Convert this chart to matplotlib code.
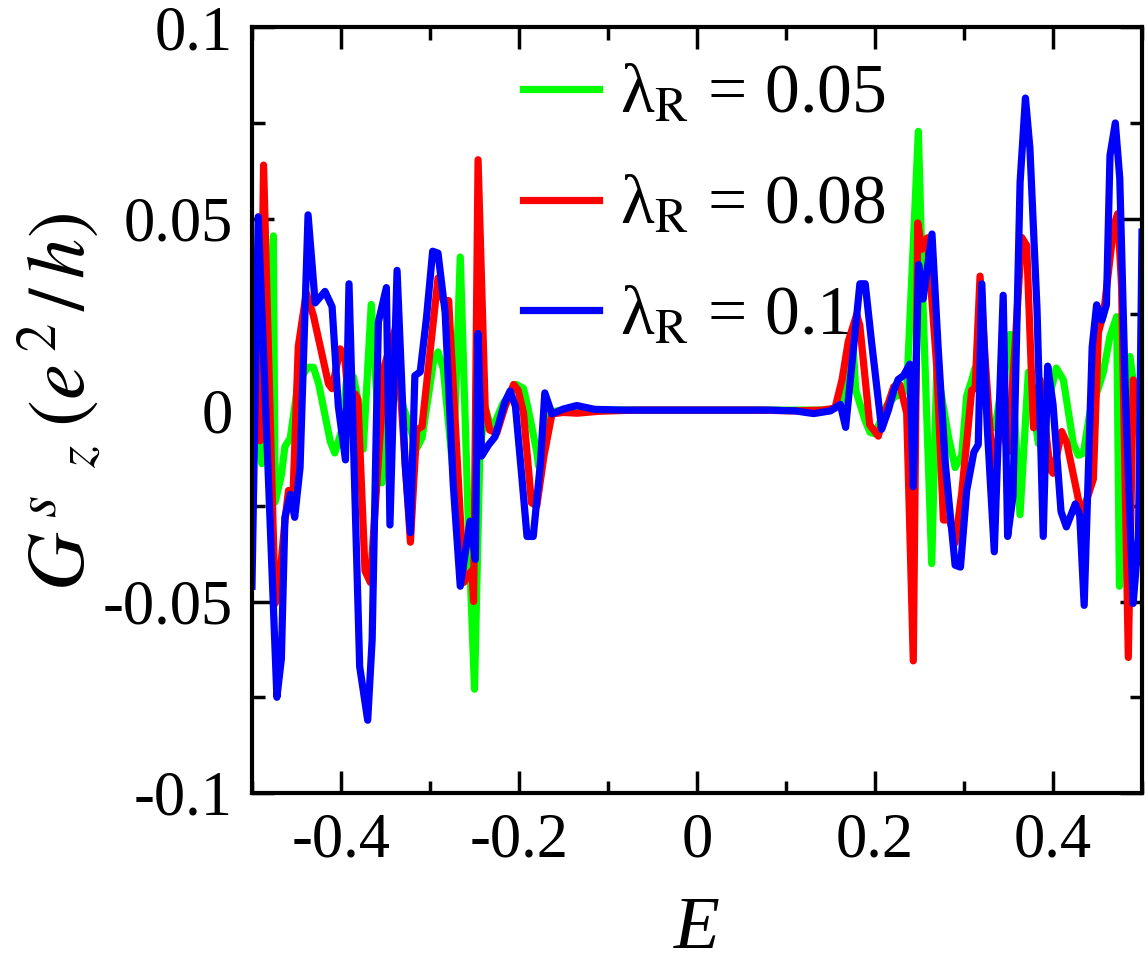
import matplotlib
matplotlib.use('Agg')
import matplotlib.pyplot as plt
from matplotlib.ticker import MultipleLocator

# ---- data (vertices of each curve) ----
e_blue = [-0.5, -0.493, -0.472, -0.467, -0.463, -0.457, -0.452, -0.446, -0.437, -0.429,
          -0.418, -0.410, -0.403, -0.395, -0.391, -0.379, -0.370, -0.365, -0.358, -0.349,
          -0.345, -0.337, -0.328, -0.322, -0.317, -0.311, -0.304, -0.297, -0.291, -0.283,
          -0.274, -0.266, -0.255, -0.249, -0.246, -0.242, -0.234, -0.227, -0.216, -0.210,
          -0.204, -0.197, -0.191, -0.184, -0.176, -0.171, -0.163, -0.150, -0.135, -0.115,
          -0.08, -0.04, 0.0, 0.04, 0.08, 0.11, 0.131, 0.150, 0.161, 0.167,
          0.183, 0.189, 0.196, 0.2075, 0.215, 0.221, 0.226, 0.232, 0.239, 0.243,
          0.249, 0.254, 0.264, 0.271, 0.279, 0.290, 0.296, 0.303, 0.311, 0.316,
          0.320, 0.326, 0.334, 0.344, 0.349, 0.355, 0.363, 0.369, 0.374, 0.382,
          0.389, 0.394, 0.400, 0.409, 0.415, 0.425, 0.430, 0.435, 0.444, 0.449,
          0.455, 0.460, 0.464, 0.470, 0.475, 0.481, 0.490, 0.496, 0.5]
g_blue = [-0.046, 0.0505, -0.075, -0.065, -0.028, -0.022, -0.028, -0.015, 0.051, 0.028,
          0.031, 0.027, 0.001, -0.013, 0.033, -0.067, -0.081, -0.060, 0.023, 0.032,
          -0.030, 0.0365, -0.014, -0.032, 0.009, 0.010, 0.024, 0.0415, 0.041, 0.0255,
          -0.019, -0.046, -0.029, -0.039, 0.020, -0.012, -0.009, -0.007, 0.002, 0.005,
          0.001, -0.017, -0.033, -0.033, -0.014, 0.0045, -0.001, 0.0003, 0.0012, 0.0002,
          0.0, 0.0, 0.0, 0.0, 0.0, -0.0002, -0.0009, -0.0002, 0.0015, -0.0045,
          0.033, 0.033, 0.018, -0.005, 0.0, 0.005, 0.008, 0.009, 0.012, -0.020,
          0.038, 0.029, 0.046, 0.016, -0.014, -0.0405, -0.041, -0.021, -0.011, -0.009,
          0.033, -0.004, -0.037, 0.030, -0.033, -0.0225, 0.0595, 0.0815, 0.0685, 0.0265,
          -0.033, 0.0115, 0.0015, -0.0265, -0.0305, -0.0245, -0.0275, -0.051, 0.0165, 0.0275,
          0.0235, 0.0275, 0.0665, 0.075, 0.0605, 0.0065, -0.0505, -0.0335, 0.0465]

e_red = [-0.5, -0.495, -0.491, -0.487, -0.474, -0.470, -0.463, -0.459, -0.454, -0.448,
         -0.439, -0.431, -0.414, -0.410, -0.401, -0.396, -0.390, -0.384, -0.381, -0.373,
         -0.367, -0.351, -0.338, -0.322, -0.315, -0.309, -0.291, -0.285, -0.279, -0.262,
         -0.257, -0.253, -0.251, -0.246, -0.238, -0.233, -0.225, -0.216, -0.206, -0.201,
         -0.195, -0.186, -0.180, -0.172, -0.163, -0.150, -0.135, -0.11, -0.07, 0.0,
         0.07, 0.11, 0.14, 0.155, 0.163, 0.170, 0.1795, 0.183, 0.194, 0.2037,
         0.208, 0.221, 0.228, 0.2356, 0.243, 0.248, 0.2525, 0.2588, 0.2694, 0.2768,
         0.284, 0.290, 0.2974, 0.3086, 0.3125, 0.318, 0.3236, 0.333, 0.3404, 0.350,
         0.3648, 0.3704, 0.378, 0.3854, 0.3967, 0.400, 0.4098, 0.4154, 0.4322, 0.4453,
         0.451, 0.457, 0.4682, 0.4726, 0.477, 0.4846, 0.4902, 0.4944, 0.5]
g_red = [0.002, -0.003, -0.008, 0.064, -0.0505, -0.047, -0.029, -0.021, -0.023, 0.0166,
         0.0306, 0.0247, 0.0068, 0.0056, 0.016, 0.0146, -0.0023, 0.0042, 0.0028, -0.042,
         -0.045, 0.0117, 0.022, -0.0345, -0.0052, -0.0043, 0.0345, 0.0286, 0.0286, -0.045,
         -0.043, -0.042, -0.050, 0.0654, 0.0007, -0.0052, -0.006, 0.0007, 0.0067, 0.0052,
         -0.0006, -0.0242, -0.025, -0.012, -0.001, -0.0006, -0.0008, -0.0003, 0.0, 0.0,
         0.0, -0.0002, 0.0, 0.0005, 0.008, 0.018, 0.025, 0.022, -0.0038, -0.0068,
         -0.003, 0.0061, 0.0066, -0.0008, -0.0655, 0.0489, 0.042, 0.045, 0.0111, -0.0287,
         -0.0287, -0.0347, -0.0217, 0.0052, 0.0057, 0.035, 0.014, -0.018, -0.0035, -0.0108,
         0.0451, 0.043, -0.0046, 0.0079, -0.0154, -0.0165, -0.0056, -0.0085, -0.0275, -0.018,
         0.0203, 0.0255, 0.048, 0.0513, 0.0325, -0.0646, 0.0079, 0.0045, -0.0025]

e_green = [-0.5, -0.495, -0.489, -0.476, -0.474, -0.467, -0.463, -0.457, -0.448, -0.437,
           -0.431, -0.425, -0.412, -0.407, -0.399, -0.394, -0.386, -0.381, -0.375, -0.366,
           -0.354, -0.345, -0.335, -0.315, -0.309, -0.296, -0.291, -0.285, -0.274, -0.266,
           -0.257, -0.250, -0.244, -0.238, -0.233, -0.228, -0.218, -0.203, -0.195, -0.190,
           -0.180, -0.178, -0.169, -0.163, -0.15, -0.12, -0.06, 0.0, 0.06, 0.12,
           0.15, 0.161, 0.1756, 0.1783, 0.1888, 0.1944, 0.200, 0.2131, 0.2225, 0.228,
           0.2356, 0.2487, 0.254, 0.2637, 0.2694, 0.2824, 0.290, 0.2974, 0.3030, 0.3086,
           0.3124, 0.3292, 0.3348, 0.3517, 0.3629, 0.3723, 0.3835, 0.4037, 0.4116, 0.4228,
           0.4284, 0.434, 0.4416, 0.451, 0.4565, 0.464, 0.4715, 0.4746, 0.4865, 0.5]
g_green = [0.0105, 0.0, -0.014, 0.0455, -0.024, -0.017, -0.0095, -0.0073, 0.0075, 0.0112,
           0.0112, 0.0068, -0.0082, -0.0112, -0.0052, 0.0075, 0.0087, 0.0028, -0.0102, 0.0276,
           -0.019, 0.008, 0.0045, -0.010, -0.0073, 0.0127, 0.0152, 0.0107, -0.0162, 0.040,
           -0.029, -0.0729, -0.011, 0.0007, -0.0033, -0.0038, 0.0017, 0.0067, 0.0057, 0.0007,
           -0.011, -0.0146, -0.0026, -0.0004, 0.0, 0.0, 0.0, 0.0, 0.0, 0.0,
           0.0, 0.0015, 0.016, 0.0052, -0.0027, -0.0058, -0.0062, 0.0012, 0.0036, 0.004,
           0.0052, 0.0728, 0.027, -0.0401, 0.0111, -0.0068, -0.015, -0.0118, 0.0037, 0.0078,
           0.011, -0.0035, -0.0046, 0.0198, -0.0273, 0.0099, -0.0087, 0.011, 0.0079, -0.0087,
           -0.0118, -0.0113, -0.0004, 0.0058, 0.0099, 0.0193, 0.0244, -0.046, 0.014, -0.011]

labels = ['λ$_{\\mathrm{R}}$ = 0.05', 'λ$_{\\mathrm{R}}$ = 0.08', 'λ$_{\\mathrm{R}}$ = 0.1']
x_ticks = [-0.4, -0.2, 0, 0.2, 0.4]
x_ticklabels = ['-0.4', '-0.2', '0', '0.2', '0.4']
y_ticks = [-0.1, -0.05, 0, 0.05, 0.1]
y_ticklabels = ['-0.1', '-0.05', '0', '0.05', '0.1']

plt.rcParams['font.family'] = 'serif'
plt.rcParams['font.serif'] = ['Liberation Serif', 'DejaVu Serif']
plt.rcParams['mathtext.fontset'] = 'stix'
plt.rcParams['axes.unicode_minus'] = False

fig = plt.figure(figsize=(11.48, 9.73), dpi=100)
ax = fig.add_axes([0.2195, 0.185, 0.7753, 0.787])

ax.plot(e_green, g_green, color='#00ff00', lw=5.2, label=labels[0])
ax.plot(e_red, g_red, color='#ff0000', lw=5.2, label=labels[1])
ax.plot(e_blue, g_blue, color='#0000ff', lw=5.2, label=labels[2])

ax.set_xlim(-0.5, 0.5)
ax.set_ylim(-0.1, 0.1)
ax.set_xticks(x_ticks, labels=x_ticklabels)
ax.set_yticks(y_ticks, labels=y_ticklabels)
ax.xaxis.set_minor_locator(MultipleLocator(0.1))
ax.yaxis.set_minor_locator(MultipleLocator(0.025))
ax.tick_params(which='both', direction='in', top=True, right=True, width=2.5)
ax.tick_params(which='major', length=16, labelsize=45, pad=14)
ax.tick_params(which='minor', length=9)
for s in ax.spines.values():
    s.set_linewidth(3)

ax.set_xlabel('E', fontsize=54, style='italic')
ax.xaxis.set_label_coords(0.5, -0.135)
ax.set_ylabel(r'$G^{\,s}{}_{\;\;z}\;(e^{\,2}\,/\,h)$', fontsize=58)
ax.yaxis.set_label_coords(-0.165, 0.51)

ax.legend(loc='upper left', bbox_to_anchor=(0.25, 1.015), frameon=False, fontsize=50,
          handlelength=1.1, handletextpad=0.3, labelspacing=0.68, borderpad=0.2)

fig.savefig('out.png', dpi=100)
